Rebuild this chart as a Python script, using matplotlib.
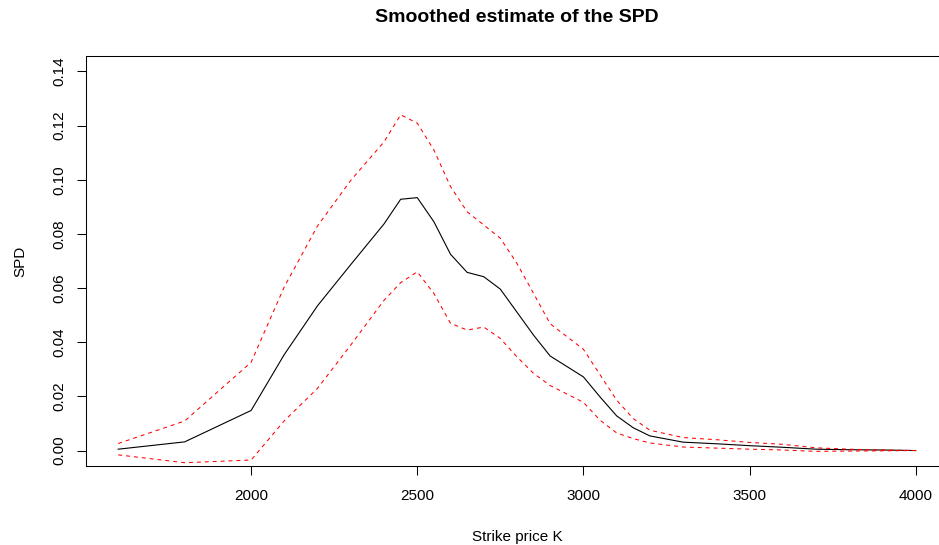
import matplotlib
matplotlib.use("Agg")
import matplotlib.pyplot as plt

plt.rcParams['font.family'] = ['Liberation Sans', 'DejaVu Sans']

# strike grid and smoothed SPD with its confidence band
strike = [1600, 1800, 2000, 2100, 2200, 2300, 2400, 2450, 2500, 2550,
          2600, 2650, 2700, 2750, 2800, 2850, 2900, 3000, 3050, 3100,
          3150, 3200, 3300, 3400, 3500, 3600, 3700, 3800, 3900, 4000]
spd = [0.0005, 0.0032, 0.0148, 0.0355, 0.0535, 0.0687, 0.0837, 0.0928, 0.0934, 0.0845,
       0.0725, 0.0658, 0.0642, 0.0596, 0.0511, 0.0426, 0.0349, 0.0272, 0.0198, 0.0128,
       0.0084, 0.0054, 0.0031, 0.0025, 0.0018, 0.0012, 0.0005, 0.0003, 0.0002, 0.0000]
upper = [0.0026, 0.0109, 0.0326, 0.0605, 0.0830, 0.0998, 0.1140, 0.1240, 0.1209, 0.1110,
         0.0975, 0.0882, 0.0833, 0.0784, 0.0691, 0.0580, 0.0468, 0.0374, 0.0280, 0.0186,
         0.0118, 0.0075, 0.0048, 0.0040, 0.0030, 0.0023, 0.0010, 0.0005, 0.0002, 0.0000]
lower = [-0.0016, -0.0045, -0.0035, 0.0110, 0.0230, 0.0390, 0.0555, 0.0620, 0.0660, 0.0580,
         0.0470, 0.0445, 0.0456, 0.0414, 0.0346, 0.0285, 0.0240, 0.0178, 0.0112, 0.0065,
         0.0044, 0.0028, 0.0013, 0.0009, 0.0005, 0.0002, -0.0003, -0.0002, -0.0001, 0.0000]

xticks = [2000, 2500, 3000, 3500, 4000]
yticks = [0.00, 0.02, 0.04, 0.06, 0.08, 0.10, 0.12, 0.14]

fig = plt.figure(figsize=(9.39, 5.45), dpi=100)
# plot region runs a bit past the right edge of the figure
ax = fig.add_axes([0.0919, 0.1455, 0.9173, 0.7512])

ax.plot(strike, spd, color='black', lw=0.8)
ax.plot(strike, upper, color='red', lw=0.75, dashes=(3.8, 3.8))
ax.plot(strike, lower, color='red', lw=0.75, dashes=(3.8, 3.8))

# R-style 4% padding around the data range
xr = 4000 - 1600
ax.set_xlim(1600 - 0.04 * xr, 4000 + 0.04 * xr)
ax.set_ylim(-0.04 * 0.14, 0.14 * 1.04)

ax.set_xticks(xticks)
ax.set_yticks(yticks)
ax.set_yticklabels([f"{v:.2f}" for v in yticks], rotation=90, va='center')
ax.tick_params(axis='both', direction='out', length=6.5, width=0.75, labelsize=11)
ax.tick_params(axis='x', pad=10)
ax.tick_params(axis='y', pad=8)

for s in ax.spines.values():
    s.set_linewidth(0.75)

ax.set_xlabel("Strike price K", fontsize=11, labelpad=20)
ax.set_ylabel("SPD", fontsize=11, labelpad=18)
fig.text(0.5503, 0.968, "Smoothed estimate of the SPD", ha='center', va='center',
         fontsize=14, fontweight='bold')

fig.savefig("out.png", dpi=100)
